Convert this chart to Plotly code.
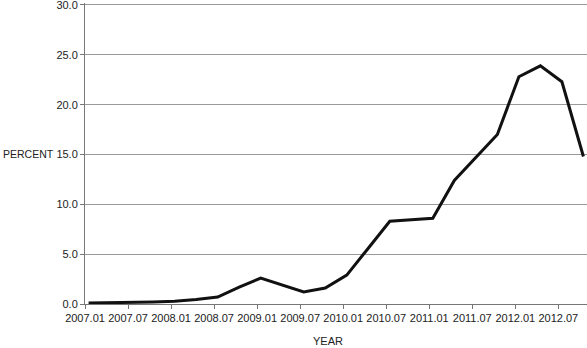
import plotly.graph_objects as go

dates = ["2007.01", "2007.04", "2007.07", "2007.10", "2008.01", "2008.04", "2008.07",
         "2008.10", "2009.01", "2009.04", "2009.07", "2009.10", "2010.01", "2010.04",
         "2010.07", "2010.10", "2011.01", "2011.04", "2011.07", "2011.10", "2012.01",
         "2012.04", "2012.07", "2012.10"]
values = [0.1, 0.12, 0.15, 0.2, 0.28, 0.45, 0.7,
          1.7, 2.6, 1.9, 1.2, 1.6, 2.9, 5.6,
          8.3, 8.45, 8.6, 12.4, 14.7, 17.0, 22.8,
          23.9, 22.3, 14.8]
tick_labels = ["2007.01", "2007.07", "2008.01", "2008.07", "2009.01", "2009.07",
               "2010.01", "2010.07", "2011.01", "2011.07", "2012.01", "2012.07"]
y_ticks = [0, 5, 10, 15, 20, 25, 30]


def month_index(s):
    y, m = s.split(".")
    return (int(y) - 2007) * 12 + int(m) - 1


# category-style positions: points centred in each monthly slot
x = [month_index(d) + 0.5 for d in dates]
tickvals = [month_index(t) for t in tick_labels]

fig = go.Figure()
fig.add_trace(go.Scatter(x=x, y=values, mode="lines",
                         line=dict(color="#111111", width=3),
                         showlegend=False, hoverinfo="skip"))

font = dict(family="Liberation Sans, Arial, sans-serif", size=11, color="#222222")

fig.update_layout(
    width=587, height=348,
    margin=dict(l=85, r=0, t=3, b=44),
    paper_bgcolor="white", plot_bgcolor="white",
    font=font,
    xaxis=dict(range=[0, 70], tickvals=tickvals, ticktext=tick_labels,
               showgrid=False, zeroline=False, showline=True, linecolor="#777777",
               linewidth=1, ticks="outside", ticklen=4, tickcolor="#777777",
               tickfont=font, fixedrange=True, ticklabeloverflow="allow"),
    yaxis=dict(range=[0, 30.2], tickvals=y_ticks, ticktext=[f"{v:.1f}" for v in y_ticks],
               showgrid=True, gridcolor="#999999", gridwidth=1, zeroline=False,
               showline=True, linecolor="#777777", linewidth=1,
               ticks="outside", ticklen=4, tickcolor="#777777",
               tickfont=font, fixedrange=True, ticklabeloverflow="allow"),
    annotations=[
        dict(text="PERCENT", xref="paper", yref="paper", x=-84/502, y=150/301,
             xanchor="left", yanchor="middle", showarrow=False,
             font=dict(family=font["family"], size=10.5, color="#222222")),
        dict(text="YEAR", xref="paper", yref="paper", x=(328-85)/502, y=-37/301,
             xanchor="center", yanchor="middle", showarrow=False, font=font),
    ],
)

fig.write_html("out.html")
